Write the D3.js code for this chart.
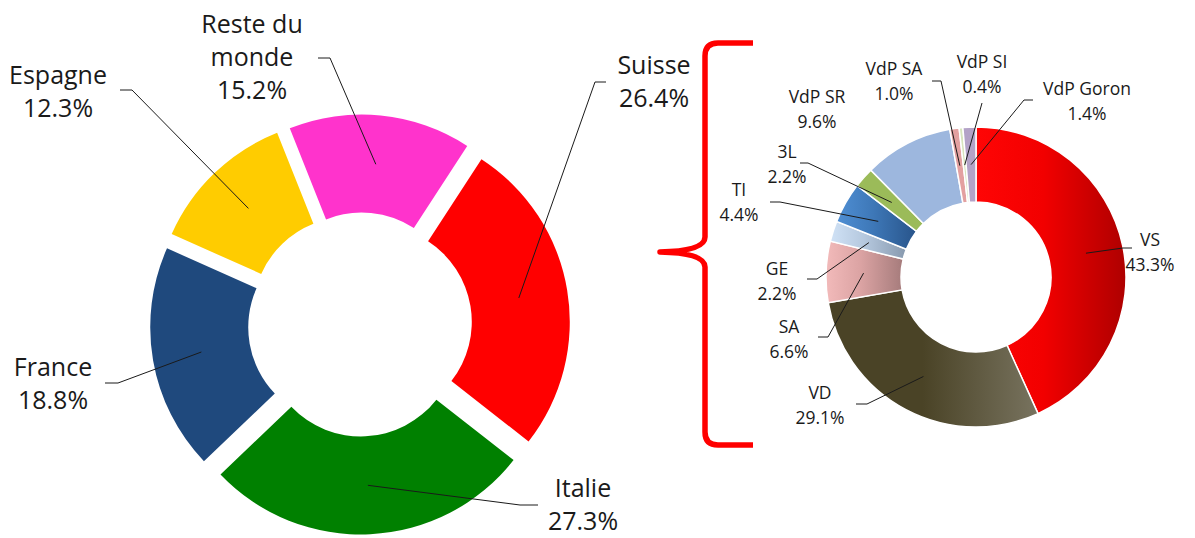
<!DOCTYPE html>
<html>
<head>
<meta charset="utf-8">
<script src="https://cdn.jsdelivr.net/npm/d3@7"></script>
<style>
body { margin: 0; background: #fff; }
text { font-family: "Open Sans", sans-serif; fill: #1a1a1a; }
</style>
</head>
<body>
<script>
// world split (left donut)
var worldNames = ["Suisse", "Italie", "France", "Espagne", "Reste du\nmonde"]
var worldValues = [26.4, 27.3, 18.8, 12.3, 15.2]
var worldColors = ["#ff0000", "#008000", "#1f497d", "#ffcc00", "#ff33cc"]

// swiss split (right donut)
var swissNames = ["VS", "VD", "SA", "GE", "TI", "3L", "VdP SR", "VdP SA", "VdP SI", "VdP Goron"]
var swissValues = [43.3, 29.1, 6.6, 2.2, 4.4, 2.2, 9.6, 1.0, 0.4, 1.4]
var swissColors = [["#ff0505", "#f20000", "#ae0000"], ["#4a4326", "#4a4326", "#78735f"],
	["#f2baba", "#dba3a3", "#a57b7b"], ["#d0e2f6", "#b5c8de", "#8799ae"],
	["#4f8fd4", "#3e78b8", "#28548a"], ["#9bbb59"], ["#9db7de"], ["#e3a0a0"],
	["#d7e4bd"], ["#b3a2c7"]]

// label layout: first line centre, then elbow of the leader line (start, bend)
var worldLabelPos = [[654, 65], [583, 488], [53, 367], [58, 75], [252, 24]]
var worldLeader = [[[606, 82], [595, 82]], [[538, 505], [520, 505]], [[105, 383], [118, 383]],
	[[120, 90], [132, 90]], [[318, 58], [330, 58]]]
var swissLabelPos = [[1150, 240], [820, 393], [789, 327], [777, 269], [739, 190], [787, 152],
	[817, 97], [894, 69], [982, 62], [1087, 89]]
var swissLeader = [[[1132, 248], [1123, 248]], [[856, 404], [867, 404]], [[818, 337], [828, 337]],
	[[807, 279], [817, 279]], [[770, 202], [780, 202]], [[800, 163], [808, 163]], null,
	[[932, 81], [941, 81]], [[982, 103], [982, 103]], [[1033, 100], [1024, 100]]]

var width = 1195, height = 538
var fmt = d3.format(".1f")

var svg = d3.select("body").append("svg")
	.attr("width", width)
	.attr("height", height)

var defs = svg.append("defs")

// ---- left donut ----
var left = { cx: 360, cy: 324.5, r0: 96, r1: 194, explode: 16 }
var leftStart = 33 * Math.PI / 180
var leftPie = d3.pie().sort(null).value(function(d) { return d })
	.startAngle(leftStart).endAngle(leftStart + 2 * Math.PI)
var leftArc = d3.arc().innerRadius(left.r0).outerRadius(left.r1)

var gL = svg.append("g").attr("transform", "translate(" + left.cx + "," + left.cy + ")")

var leftSlices = leftPie(worldValues).map(function(d) {
	var mid = (d.startAngle + d.endAngle) / 2
	d.dx = left.explode * Math.sin(mid)
	d.dy = -left.explode * Math.cos(mid)
	return d
})

gL.selectAll("path.slice").data(leftSlices).enter().append("path")
	.attr("class", "slice")
	.attr("transform", function(d) { return "translate(" + d.dx + "," + d.dy + ")" })
	.attr("d", leftArc)
	.attr("fill", function(d, i) { return worldColors[i] })

drawLabels(svg, leftSlices, leftArc, left, worldNames, worldValues, worldLabelPos, worldLeader, 25, 33)

// ---- right donut ----
var right = { cx: 976, cy: 277, r0: 75, r1: 150, explode: 0 }
var rightPie = d3.pie().sort(null).value(function(d) { return d })
var rightArc = d3.arc().innerRadius(right.r0).outerRadius(right.r1)

swissColors.forEach(function(c, i) {
	if (c.length < 2) return
	var g = defs.append("linearGradient").attr("id", "sg" + i)
		.attr("x1", 0).attr("x2", 1).attr("y1", 0).attr("y2", 0)
	g.append("stop").attr("offset", 0).attr("stop-color", c[0])
	g.append("stop").attr("offset", 0.45).attr("stop-color", c[1])
	g.append("stop").attr("offset", 1).attr("stop-color", c[2])
})

var gR = svg.append("g").attr("transform", "translate(" + right.cx + "," + right.cy + ")")
var rightSlices = rightPie(swissValues).map(function(d) { d.dx = 0; d.dy = 0; return d })

gR.selectAll("path.slice").data(rightSlices).enter().append("path")
	.attr("class", "slice")
	.attr("d", rightArc)
	.attr("fill", function(d, i) {
		return swissColors[i].length > 1 ? "url(#sg" + i + ")" : swissColors[i][0]
	})
	.attr("stroke", "#fff")
	.attr("stroke-width", 1.5)

drawLabels(svg, rightSlices, rightArc, right, swissNames, swissValues, swissLabelPos, swissLeader, 17.5, 25)

// ---- brace ----
svg.append("path")
	.attr("d", "M753,43 H718 Q705,43 705,56 V237 Q705,251 660,252 Q705,253 705,267 V432 Q705,445 718,445 H753")
	.attr("fill", "none")
	.attr("stroke", "#ff0000")
	.attr("stroke-width", 5.5)
	.attr("stroke-linejoin", "round")

function drawLabels(node, slices, arc, geo, names, values, pos, leader, size, lineH) {
	slices.forEach(function(d, i) {
		var c = arc.centroid(d)
		var end = [geo.cx + d.dx + c[0], geo.cy + d.dy + c[1]]
		if (leader[i]) {
			var pts = [leader[i][0], leader[i][1], end]
			node.append("path")
				.attr("d", d3.line()(pts))
				.attr("fill", "none")
				.attr("stroke", "#1a1a1a")
				.attr("stroke-width", 1)
		}
		var lines = names[i].split("\n").concat([fmt(values[i]) + "%"])
		var t = node.append("text")
			.attr("text-anchor", "middle")
			.style("font-size", size + "px")
		lines.forEach(function(s, k) {
			t.append("tspan")
				.attr("x", pos[i][0])
				.attr("y", pos[i][1] + k * lineH)
				.attr("dy", "0.36em")
				.text(s)
		})
	})
}
</script>
</body>
</html>
